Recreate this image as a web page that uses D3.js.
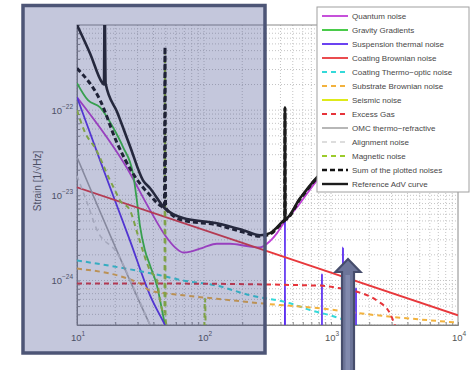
<!DOCTYPE html>
<html>
<head>
<meta charset="utf-8">
<script src="https://cdn.jsdelivr.net/npm/d3@7"></script>
<style>
  html, body { margin: 0; padding: 0; background: #fff; }
  svg { display: block; font-family: "Liberation Sans", Arial, sans-serif; }
</style>
</head>
<body>
<svg id="chart" width="476" height="370"></svg>
<script>
// ---- Data: amplitude spectral densities, [frequency Hz, strain 1/sqrt(Hz)] ----
const freqTicks = [10, 100, 1000, 10000];
const freqExponents = ["1", "2", "3", "4"];
const strainTicks = [1e-24, 1e-23, 1e-22];
const strainExponents = ["\u221224", "\u221223", "\u221222"];

const quantumNoise = [[10,1.42e-22],[24.8,2.08e-23],[37.6,6.7e-24],[49.3,3.4e-24],[60,2.4e-24],[68.4,2.13e-24],[80,2.2e-24],[100,2.45e-24],[126,2.7e-24],[160,2.7e-24],[230,2.5e-24],[276,2.45e-24],[331,2.9e-24],[376,3.6e-24],[419,4.6e-24],[550,7.5e-24],[777,1.5e-23],[2000,4e-23],[10000,2e-22]];
const gravityGradients = [[10,2.08e-22],[12.2,1.31e-22],[15.2,1.08e-22],[19.2,6.3e-23],[23.0,3.7e-23],[27.6,1.8e-23],[29.6,8.7e-24],[31.3,4.4e-24],[34.3,2.25e-24],[37.6,1.5e-24],[42.6,8.7e-25],[47.6,3.9e-25],[52,2e-25]];
const suspensionThermal = [[10,1.42e-22],[16.0,2.08e-23],[26.1,2.96e-24],[37.6,6.7e-25],[49.3,3e-25],[64.7,1.31e-25],[120,5e-27],[300,1e-27],[432,1e-27],[434,5.1e-24],[436,1e-27],[846,1e-27],[849,1.21e-24],[852,1e-27],[1239,1e-27],[1243,2.45e-24],[1247,1e-27],[1569,1e-27],[1574,8.3e-25],[1579,1e-27],[10000,1e-27]];
const coatingBrownian = [[10,1.24e-23],[10000,3.9e-25]];
const coatingThermoOptic = [[10,1.72e-24],[45.1,1.15e-24],[68.4,1.0e-24],[126,8.7e-25],[230,6.7e-25],[476,5.4e-25],[684,4.5e-25],[982,3.9e-25],[1517,3.1e-25],[2000,2.5e-25],[3000,1.8e-25]];
const substrateBrownian = [[10,1.38e-24],[31.3,9.2e-25],[37.6,7.6e-25],[68.4,6.7e-25],[126,6.1e-25],[276,5.4e-25],[819,4.7e-25],[2301,3.9e-25],[10000,3.2e-25]];
const seismicNoise = [[10,2.5e-25],[11,8e-26],[13,1e-26],[20,1e-28]];
const excessGas = [[10,9.2e-25],[45,9.2e-25],[819,8.7e-25],[1178,8.1e-25],[1692,7.2e-25],[2301,5.8e-25],[2915,4.1e-25],[3200,2.9e-25],[3500,1.8e-25]];
const omcThermoRefractive = [[10,2.8e-23],[37.6,3e-25],[45,1.7e-25]];
const alignmentNoise = [[10,1.7e-23],[12.0,8.2e-24],[14.4,3.9e-24],[20.7,2.1e-24],[28.6,7.6e-25],[37.6,3e-25]];
const magneticNoise = [[10,1.0e-22],[11.6,5.4e-23],[13.9,3.6e-23],[18.2,1.5e-23],[19.9,1.15e-23],[21.8,8.7e-24],[26.1,6.7e-24],[30.2,3.4e-24],[37.6,1.31e-24],[42.6,1.0e-24],[45.1,5.8e-25],[47.6,4.2e-25],[48.8,4e-25],[49.3,5.5e-22],[49.8,3.5e-25],[55,2e-25],[80,1.5e-25],[99.5,1.5e-25],[101.9,6.1e-25],[104,1.5e-25],[10000,1e-26]];
const sumOfNoises = [[10,3.1e-22],[15.2,1.31e-22],[20.7,4.1e-23],[27.6,1.8e-23],[37.6,1.0e-23],[46.5,7.4e-24],[48.8,7.2e-24],[49.3,5.5e-22],[49.8,7.1e-24],[68.4,5.1e-24],[126,4.5e-24],[203,3.7e-24],[276,3.3e-24],[331,3.5e-24],[420,4.9e-24],[432,5.1e-24],[434,1.05e-22],[436,5.2e-24],[570,9.0e-24],[777,1.6e-23],[1500,3.1e-23],[3000,6.3e-23],[10000,2.1e-22]];
const referenceAdV = [[10,1.0e-21],[12.7,4.6e-22],[15.7,2.13e-22],[16.3,2.0e-22],[16.5,2e-21],[16.8,2.05e-22],[20.7,9.5e-23],[26.1,3.8e-23],[33.1,1.5e-23],[37.6,1.21e-23],[49.3,7.0e-24],[68.4,5.4e-24],[126,4.7e-24],[203,3.9e-24],[276,3.4e-24],[331,3.6e-24],[420,5.0e-24],[432,5.2e-24],[434,1.08e-22],[436,5.3e-24],[570,9.2e-24],[777,1.63e-23],[1500,3.2e-23],[3000,6.5e-23],[10000,2.1e-22]];

const seriesNames = ["Quantum noise","Gravity Gradients","Suspension thermal noise","Coating Brownian noise","Coating Thermo\u2212optic noise","Substrate Brownian noise","Seismic noise","Excess Gas","OMC thermo\u2212refractive","Alignment noise","Magnetic noise","Sum of the plotted noises","Reference AdV curve"];
const seriesData = [quantumNoise, gravityGradients, suspensionThermal, coatingBrownian, coatingThermoOptic, substrateBrownian, seismicNoise, excessGas, omcThermoRefractive, alignmentNoise, magneticNoise, sumOfNoises, referenceAdV];

// ---- Styles per series ----
const seriesStyle = [
  {color:"#c03ed6", width:1.8, dash:null},
  {color:"#36c636", width:1.8, dash:null},
  {color:"#5b2ef0", width:1.8, dash:null},
  {color:"#e8383c", width:1.8, dash:null},
  {color:"#34d9d9", width:2, dash:"5,4"},
  {color:"#f2b23e", width:2, dash:"5,4"},
  {color:"#dbe800", width:1.8, dash:null},
  {color:"#e6343a", width:2, dash:"5,4"},
  {color:"#a6a6a6", width:1.6, dash:null},
  {color:"#d2d2d2", width:1.6, dash:"5,4"},
  {color:"#9ccb2c", width:2, dash:"5,4"},
  {color:"#141414", width:3, dash:"5,3"},
  {color:"#1c1c1c", width:2.6, dash:null}
];

const svg = d3.select("#chart");
const plot = {left:77, right:458, top:25, bottom:325};

const x = d3.scaleLog().domain([10, 10000]).range([plot.left, plot.right]);
const y = d3.scaleLog().domain([3e-25, 1e-21]).range([plot.bottom, plot.top]);

// ---- Grid (major + minor, dotted) ----
const grid = svg.append("g");
const xGrid = [];
for (let d = 10; d < 10000; d *= 10) for (let k = 1; k < 10; k++) xGrid.push(d * k);
const yGrid = [];
for (let d = 1e-25; d < 1e-21; d *= 10) for (let k = 1; k < 10; k++) {
  const v = d * k; if (v >= 3e-25 && v <= 1e-21) yGrid.push(v);
}
grid.selectAll(".gx").data(xGrid).join("line")
  .attr("x1", d => x(d)).attr("x2", d => x(d))
  .attr("y1", plot.top).attr("y2", plot.bottom)
  .attr("stroke", "#c4c4c4").attr("stroke-width", 1).attr("stroke-dasharray", "1,2");
grid.selectAll(".gy").data(yGrid).join("line")
  .attr("x1", plot.left).attr("x2", plot.right)
  .attr("y1", d => y(d)).attr("y2", d => y(d))
  .attr("stroke", "#c4c4c4").attr("stroke-width", 1).attr("stroke-dasharray", "1,2");

// ---- Axes frame and ticks ----
const axB = svg.append("g").attr("transform", `translate(0,${plot.bottom})`)
  .call(d3.axisBottom(x).tickValues(xGrid.concat([10000])).tickSize(-3).tickFormat(""));
const axL = svg.append("g").attr("transform", `translate(${plot.left},0)`)
  .call(d3.axisLeft(y).tickValues(yGrid).tickSize(-3).tickFormat(""));
[axB, axL].forEach(a => {
  a.selectAll("path").attr("stroke", "#7a7a7a").attr("stroke-width", 1);
  a.selectAll("line").attr("stroke", "#8a8a8a");
});
svg.append("rect").attr("x", plot.left).attr("y", plot.top)
  .attr("width", plot.right - plot.left).attr("height", plot.bottom - plot.top)
  .attr("fill", "none").attr("stroke", "#8a8a8a").attr("stroke-width", 1);

// tick labels with superscript exponents
svg.append("g").selectAll("text").data(freqTicks).join("text")
  .attr("x", d => x(d) + 1).attr("y", 341)
  .attr("text-anchor", "middle").attr("fill", "#555").attr("font-size", 9.5)
  .each(function(d, i) {
    const t = d3.select(this);
    t.append("tspan").text("10");
    t.append("tspan").attr("dy", -5).attr("font-size", 6.5).text(freqExponents[i]);
  });
svg.append("g").selectAll("text").data(strainTicks).join("text")
  .attr("x", 73).attr("y", d => y(d) + 4)
  .attr("text-anchor", "end").attr("fill", "#555").attr("font-size", 9.5)
  .each(function(d, i) {
    const t = d3.select(this);
    t.append("tspan").text("10");
    t.append("tspan").attr("dy", -5).attr("font-size", 6.5).text(strainExponents[i]);
  });

svg.append("text").attr("transform", "translate(41,181) rotate(-90)")
  .attr("text-anchor", "middle").attr("fill", "#555").attr("font-size", 10)
  .text("Strain [1/\u221AHz]");

// ---- Curves ----
svg.append("clipPath").attr("id", "plotClip").append("rect")
  .attr("x", plot.left).attr("y", plot.top)
  .attr("width", plot.right - plot.left).attr("height", plot.bottom - plot.top);

const line = d3.line().x(d => x(d[0])).y(d => y(d[1])).curve(d3.curveMonotoneX);
const curves = svg.append("g").attr("clip-path", "url(#plotClip)");
seriesData.forEach((data, i) => {
  const s = seriesStyle[i];
  curves.append("path").datum(data)
    .attr("d", line)
    .attr("fill", "none")
    .attr("stroke", s.color)
    .attr("stroke-width", s.width)
    .attr("stroke-dasharray", s.dash)
    .attr("stroke-linejoin", "round");
});

// ---- Legend ----
const lg = svg.append("g").attr("transform", "translate(317,7)");
lg.append("rect").attr("width", 152).attr("height", 185)
  .attr("fill", "#fff").attr("stroke", "#a0a0a0").attr("stroke-width", 1);
const items = lg.selectAll("g.item").data(seriesNames).join("g")
  .attr("transform", (d, i) => `translate(0,${9 + i * 14})`);
items.append("line").attr("x1", 5).attr("x2", 31).attr("y1", 0).attr("y2", 0)
  .attr("stroke", (d, i) => seriesStyle[i].color)
  .attr("stroke-width", (d, i) => Math.min(seriesStyle[i].width, 2.4))
  .attr("stroke-dasharray", (d, i) => seriesStyle[i].dash);
items.append("text").attr("x", 35).attr("y", 3)
  .attr("fill", "#474747").attr("font-size", 8)
  .text(d => d);

// ---- Highlight frame over the low-frequency band ----
svg.append("rect").attr("x", 23).attr("y", 5.5).attr("width", 242).attr("height", 347.5)
  .attr("fill", "rgb(60,70,138)").attr("fill-opacity", 0.3)
  .attr("stroke", "#4d5576").attr("stroke-width", 3.5);

// ---- Upward pointer ----
const arrow = svg.append("g");
arrow.append("path")
  .attr("d", "M342,372 L342,272 L335.5,272 L348,259 L360.5,272 L354,272 L354,372 Z")
  .attr("fill", "#6d7599").attr("stroke", "#464d6c").attr("stroke-width", 2.2)
  .attr("stroke-linejoin", "miter");
arrow.append("rect").attr("x", 345.5).attr("y", 275).attr("width", 4.5).attr("height", 97)
  .attr("fill", "#8189ad");
</script>
</body>
</html>
